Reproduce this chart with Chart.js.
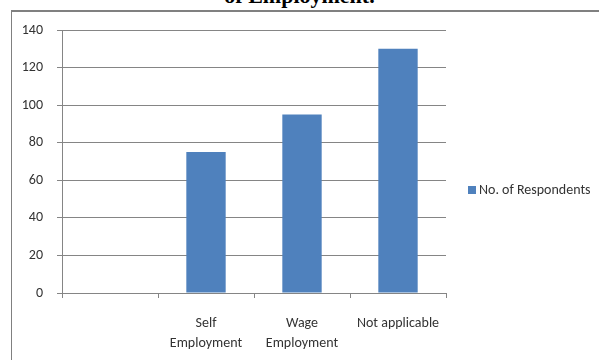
<!DOCTYPE html>
<html>
<head>
<meta charset="utf-8">
<script src="https://cdn.jsdelivr.net/npm/chart.js@4/dist/chart.umd.min.js"></script>
<style>
  html,body{margin:0;padding:0;background:#fff;overflow:hidden;}
  body{width:599px;height:360px;position:relative;}
  .heading{position:absolute;left:0;width:599px;top:-15px;text-align:center;font:bold 22px/1 "Liberation Serif","DejaVu Serif",serif;color:#000;}
  .frame{position:absolute;left:11px;top:10px;width:620px;height:400px;border:1px solid #808080;border-top-width:2px;}
  #chart{position:absolute;left:0;top:0;}
  .key{position:absolute;left:468px;top:181px;font:14px Carlito,Lato,"Open Sans",sans-serif;color:#333;white-space:nowrap;}
  .key i{display:inline-block;width:8px;height:8px;margin-right:3px;vertical-align:0;}
</style>
</head>
<body>
<div class="heading">of Employment.</div>
<div class="frame"></div>
<canvas id="chart" width="599" height="360"></canvas>
<div class="key" id="key"></div>
<script>
  // employment type vs. respondent count
  const categories=['',['Self','Employment'],['Wage','Employment'],'Not applicable'];
  const respondents=[null,75,95,130];
  const seriesName='No. of Respondents';
  const barColor='#4F81BD';
  const yMin=0,yMax=140,yStep=20;

  const axisFont={family:'Carlito, Lato, "Open Sans", sans-serif',size:14,lineHeight:1.4};
  const lineGray='#858585';

  new Chart(document.getElementById('chart'),{
    type:'bar',
    data:{labels:categories,datasets:[{label:seriesName,data:respondents,backgroundColor:barColor,borderWidth:0,categoryPercentage:1,barPercentage:0.41}]},
    options:{
      responsive:false,animation:false,
      layout:{padding:{top:30,right:153,bottom:0,left:0}},
      plugins:{legend:{display:false},tooltip:{enabled:false}},
      scales:{
        x:{
          grid:{display:true,drawOnChartArea:false,offset:true,color:lineGray,tickLength:5},
          border:{color:lineGray},
          ticks:{color:'#333',font:axisFont,padding:16,maxRotation:0,autoSkip:false},
          afterFit:scale=>{scale.height=67;}
        },
        y:{
          min:yMin,max:yMax,
          grid:{color:lineGray,tickLength:5},
          border:{color:lineGray},
          ticks:{stepSize:yStep,color:'#333',font:axisFont,padding:14},
          afterFit:scale=>{scale.width=62;}
        }
      }
    }
  });

  const key=document.getElementById('key');
  const swatch=document.createElement('i');
  swatch.style.background=barColor;
  key.appendChild(swatch);
  key.appendChild(document.createTextNode(seriesName));
</script>
</body>
</html>
